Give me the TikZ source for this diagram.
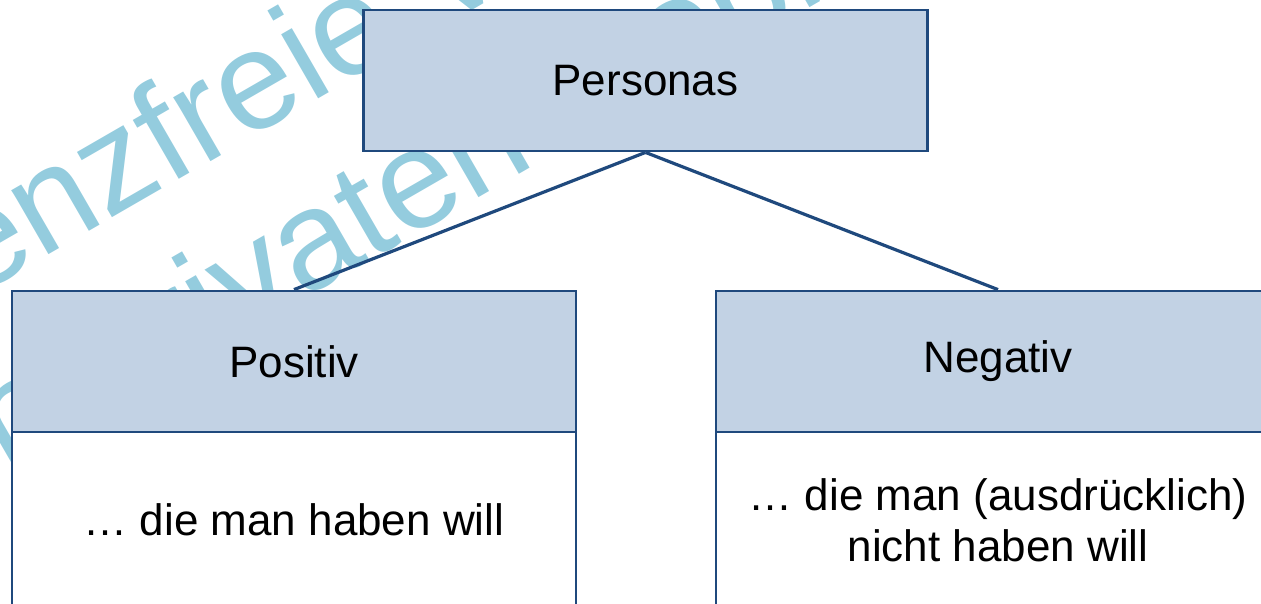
\documentclass[tikz,border=0pt]{standalone}
\usepackage{fontspec}
\newfontfamily\lab{Liberation Sans}
\newfontfamily\wmfont{Liberation Sans}
\definecolor{boxfill}{RGB}{194,210,228}
\definecolor{boxline}{RGB}{31,73,125}
\definecolor{wmcol}{RGB}{148,204,222}
\tikzset{
  hdr/.style={draw=boxline, fill=boxfill, line width=2.8pt, minimum width=564pt, minimum height=141pt, inner sep=0pt, font=\lab\fontsize{44}{51}\selectfont},
  bodybox/.style={draw=boxline, fill=white, line width=2.4pt, minimum width=564pt, minimum height=176pt, inner sep=0pt, align=center, font=\lab\fontsize{44}{51}\selectfont},
  conn/.style={draw=boxline, line width=3.2pt},
  wmtext/.style={text=wmcol, font=\wmfont\fontsize{140}{140}\selectfont, rotate=30, anchor=base west, inner sep=0pt}
}
\begin{document}
\begin{tikzpicture}[x=1pt,y=-1pt]
\useasboundingbox (0,0) rectangle (1261,603);
\clip (0,0) rectangle (1261,603);
% watermark
\node[wmtext] (wm1) at (-182,388) {Lizenzfreie Version};
\node[wmtext] (wm2) at (-129,549) {den privaten Gebrauch};
% boxes
\node[hdr] (personas) at (645.5,80.5) {Personas};
\node[hdr] (positiv) at (294,361.5) {Positiv};
\node[bodybox] (posbody) at (294,520) {\dots\ die man haben will};
\node[hdr] (negativ) at (998,361.5) {Negativ};
\node[bodybox] (negbody) at (998,520) {\dots\ die man (ausdrücklich)\\nicht haben will};
\draw[conn] (personas.south) -- (positiv.north);
\draw[conn] (personas.south) -- (negativ.north);
\end{tikzpicture}
\end{document}
